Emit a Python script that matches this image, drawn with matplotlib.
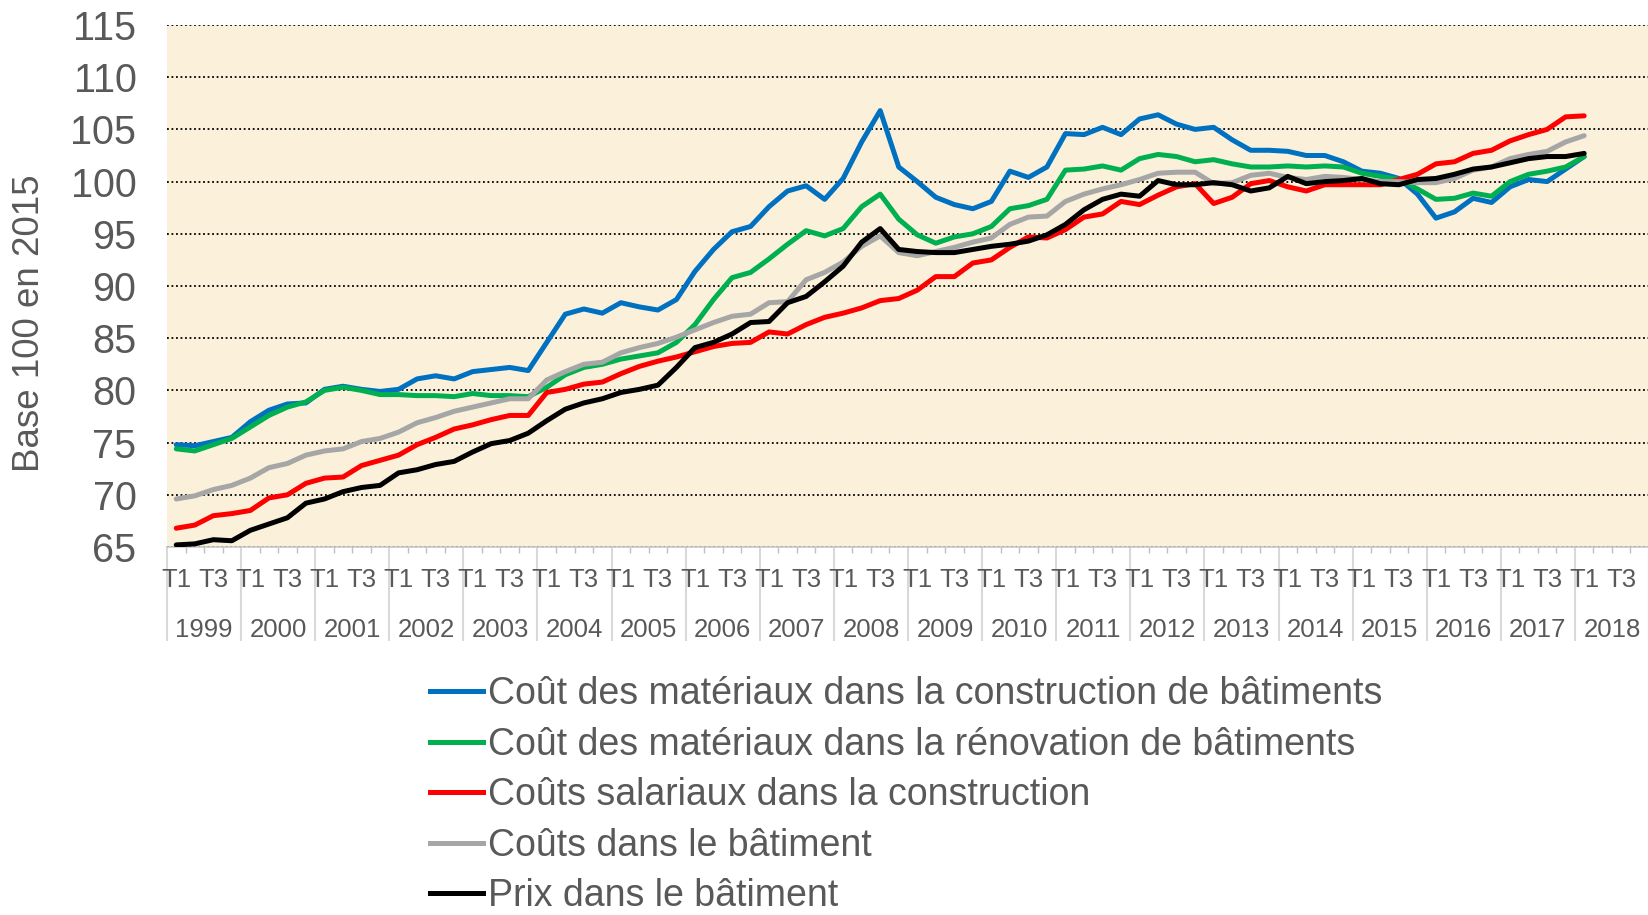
import numpy as np
import matplotlib
matplotlib.use("Agg")
import matplotlib.pyplot as plt
from matplotlib.lines import Line2D

plt.rcParams['font.family'] = ['Liberation Sans', 'DejaVu Sans']

years = list(range(1999, 2019))
quarters = ['T1', 'T2', 'T3', 'T4']

materiaux_construction = [
    74.8, 74.7, 75.1, 75.5, 77.0, 78.1, 78.7, 78.8, 80.1, 80.4, 80.1, 79.9,
    80.1, 81.1, 81.4, 81.1, 81.8, 82.0, 82.2, 81.9, 84.6, 87.3, 87.8, 87.4,
    88.4, 88.0, 87.7, 88.7, 91.4, 93.5, 95.2, 95.7, 97.6, 99.1, 99.6, 98.3,
    100.3, 103.8, 106.8, 101.4, 100.0, 98.5, 97.8, 97.4, 98.1, 101.0, 100.4, 101.4,
    104.6, 104.5, 105.2, 104.5, 106.0, 106.4, 105.5, 105.0, 105.2, 104.0, 103.0, 103.0,
    102.9, 102.5, 102.5, 101.9, 101.0, 100.8, 100.3, 98.8, 96.5, 97.1, 98.4, 98.0,
    99.5, 100.2, 100.0, 101.2, 102.4]
materiaux_renovation = [
    74.4, 74.2, 74.8, 75.4, 76.5, 77.6, 78.4, 78.9, 80.0, 80.3, 80.0, 79.6,
    79.6, 79.5, 79.5, 79.4, 79.7, 79.5, 79.5, 79.4, 80.3, 81.5, 82.2, 82.5,
    83.0, 83.3, 83.6, 84.6, 86.3, 88.7, 90.8, 91.3, 92.6, 94.0, 95.3, 94.8,
    95.5, 97.6, 98.8, 96.4, 94.9, 94.1, 94.7, 95.0, 95.7, 97.4, 97.7, 98.3,
    101.1, 101.2, 101.5, 101.1, 102.2, 102.6, 102.4, 101.9, 102.1, 101.7, 101.4, 101.4,
    101.5, 101.4, 101.5, 101.4, 100.8, 100.5, 100.2, 99.3, 98.3, 98.4, 98.9, 98.6,
    100.0, 100.7, 101.0, 101.4, 102.4]
couts_salariaux = [
    66.8, 67.1, 68.0, 68.2, 68.5, 69.7, 70.0, 71.1, 71.6, 71.7, 72.8, 73.3,
    73.8, 74.8, 75.5, 76.3, 76.7, 77.2, 77.6, 77.6, 79.8, 80.1, 80.6, 80.8,
    81.6, 82.3, 82.8, 83.2, 83.7, 84.2, 84.5, 84.6, 85.6, 85.4, 86.3, 87.0,
    87.4, 87.9, 88.6, 88.8, 89.6, 90.9, 90.9, 92.2, 92.5, 93.7, 94.7, 94.6,
    95.4, 96.6, 96.9, 98.1, 97.8, 98.7, 99.5, 99.8, 97.9, 98.5, 99.8, 100.1,
    99.5, 99.1, 99.7, 99.7, 99.7, 99.7, 100.2, 100.7, 101.7, 101.9, 102.7, 103.0,
    103.9, 104.5, 105.0, 106.2, 106.3]
couts_batiment = [
    69.6, 69.9, 70.5, 70.9, 71.6, 72.6, 73.0, 73.8, 74.2, 74.4, 75.1, 75.4,
    76.0, 76.9, 77.4, 78.0, 78.4, 78.8, 79.2, 79.2, 81.0, 81.8, 82.5, 82.7,
    83.6, 84.1, 84.5, 85.1, 85.8, 86.5, 87.1, 87.3, 88.4, 88.5, 90.6, 91.3,
    92.3, 93.8, 94.8, 93.2, 92.9, 93.3, 93.7, 94.2, 94.6, 95.9, 96.6, 96.7,
    98.1, 98.8, 99.3, 99.7, 100.2, 100.8, 100.9, 100.9, 99.8, 99.9, 100.6, 100.8,
    100.4, 100.2, 100.5, 100.4, 100.2, 100.0, 100.0, 99.9, 99.9, 100.3, 101.1, 101.4,
    102.2, 102.6, 102.9, 103.8, 104.4]
prix_batiment = [
    65.2, 65.3, 65.7, 65.6, 66.6, 67.2, 67.8, 69.2, 69.6, 70.3, 70.7, 70.9,
    72.1, 72.4, 72.9, 73.2, 74.1, 74.9, 75.2, 75.9, 77.1, 78.2, 78.8, 79.2,
    79.8, 80.1, 80.5, 82.2, 84.1, 84.6, 85.4, 86.5, 86.6, 88.4, 89.0, 90.4,
    91.9, 94.2, 95.5, 93.5, 93.3, 93.2, 93.2, 93.5, 93.8, 94.0, 94.3, 94.9,
    95.9, 97.3, 98.3, 98.8, 98.6, 100.1, 99.7, 99.7, 99.9, 99.7, 99.1, 99.4,
    100.5, 99.8, 100.0, 100.1, 100.3, 99.8, 99.7, 100.2, 100.3, 100.7, 101.2, 101.4,
    101.8, 102.2, 102.4, 102.4, 102.7]

series = [
    ("Coût des matériaux dans la construction de bâtiments", materiaux_construction, '#0070C0'),
    ("Coût des matériaux dans la rénovation de bâtiments", materiaux_renovation, '#00B050'),
    ("Coûts salariaux dans la construction", couts_salariaux, '#FF0000'),
    ("Coûts dans le bâtiment", couts_batiment, '#A6A6A6'),
    ("Prix dans le bâtiment", prix_batiment, '#000000'),
]

W, H = 1649, 915
fig = plt.figure(figsize=(W / 100, H / 100), dpi=100)
ax_l, ax_r, ax_t, ax_b = 167, 1649, 25, 547
ax = fig.add_axes([ax_l / W, 1 - ax_b / H, (ax_r - ax_l) / W, (ax_b - ax_t) / H])
ax.set_facecolor('#FBF1DB')

ncat = len(years) * 4
for label, vals, color in series:
    x = np.arange(len(vals))
    ax.plot(x, vals, color=color, lw=3.6, solid_joinstyle='round',
            solid_capstyle='round', label=label, zorder=3)

ax.set_xlim(-0.5, ncat - 0.5)
ax.set_ylim(65, 115)
ax.set_yticks(np.arange(65, 116, 5))
ax.yaxis.grid(True, color='black', linestyle=(0, (1, 1.5)), linewidth=1.3, zorder=1)
for s in ['left', 'right', 'top']:
    ax.spines[s].set_visible(False)
ax.spines['bottom'].set_color('#C8C8C8')
ax.spines['bottom'].set_linewidth(1.2)
ax.tick_params(axis='y', length=0, pad=22, labelsize=28.5, labelcolor='#595959')

ax.set_xticks(np.arange(-0.5, ncat, 4))
ax.set_xticks(np.arange(-0.5, ncat, 1), minor=True)
ax.tick_params(axis='x', which='major', length=68, width=1.5, color='#D9D9D9',
               labelbottom=False)
ax.tick_params(axis='x', which='minor', length=4, width=1.0, color='#BFBFBF',
               labelbottom=False)

trans = ax.get_xaxis_transform()
axh = ax_b - ax_t
for yi, yr in enumerate(years):
    for qi, q in enumerate(quarters):
        if qi in (0, 2):
            ax.text(yi * 4 + qi, -33 / axh, q, transform=trans, ha='center',
                    va='center', fontsize=18.5, color='#595959', clip_on=False)
    ax.text(yi * 4 + 1.5, -83 / axh, str(yr), transform=trans, ha='center',
            va='center', fontsize=18.5, color='#595959', clip_on=False)

fig.text(30 / W, 1 - 323 / H, 'Base 100 en 2015', rotation=90, ha='center',
         va='center', fontsize=26.5, color='#595959')

leg_handles = [Line2D([0], [0], color=c, lw=3.6) for _, _, c in series]
leg = fig.legend(leg_handles, [s[0] for s in series], loc='upper left',
                 bbox_to_anchor=(430 / W, 1 - 676 / H), frameon=False,
                 fontsize=27, handlelength=1.42, handletextpad=0.14,
                 labelspacing=0.39, borderpad=0, borderaxespad=0)
for t in leg.get_texts():
    t.set_color('#595959')

fig.savefig('out.png', dpi=100)
